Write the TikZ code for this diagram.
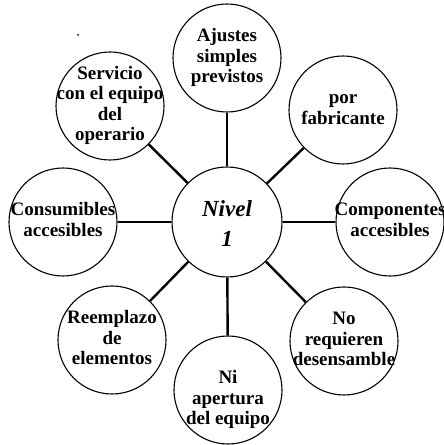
\documentclass[tikz,border=0pt]{standalone}
\usepackage{fontspec}
\setmainfont{Liberation Serif}
\newcommand\ztxt[1]{\makebox[0pt]{\begin{tabular}{@{}c@{}}#1\end{tabular}}}
\begin{document}
\begin{tikzpicture}[x=1pt,y=1pt,
  bub/.style={circle,draw,line width=1.1pt,minimum size=108pt,inner sep=0pt,
    font=\bfseries\fontsize{19}{20.5}\selectfont},
  hub/.style={bub,minimum size=110pt},
  txt/.style={inner sep=0pt,font=\bfseries\fontsize{19}{20.5}\selectfont},
  hubtxt/.style={inner sep=0pt,font=\bfseries\itshape\fontsize{23}{30}\selectfont},
  conn/.style={line width=2.4pt}]
\useasboundingbox (0,0) rectangle (444,445);
\node[hub] (c) at (227,223) {};
\node[hubtxt] (ct) at (227,219) {\ztxt{Nivel\\1}};
\node[bub] (a) at (227,387) {\ztxt{Ajustes\\simples\\previstos}};
\node[bub] (s) at (110,339) {\ztxt{Servicio\\con el equipo\\del\\operario}};
\node[bub] (f) at (343,335) {\ztxt{por\\fabricante}};
\node[bub] (cs) at (63,223) {\ztxt{Consumibles\\accesibles}};
\node[bub] (cp) at (390,223) {\ztxt{Componentes\\accesibles}};
\node[bub] (r) at (112,105) {\ztxt{Reemplazo\\de\\elementos}};
\node[bub] (n) at (228,55) {};
\node[txt] (nt) at (228,45) {\ztxt{Ni\\apertura\\del equipo}};
\node[bub] (d) at (344,104) {\ztxt{No\\requieren\\desensamble}};
\foreach \t in {a,s,f,cs,cp,r,n,d} \draw[conn] (c) -- (\t);
\fill (78,410) circle[radius=1pt] coordinate (dot);
\end{tikzpicture}
\end{document}
